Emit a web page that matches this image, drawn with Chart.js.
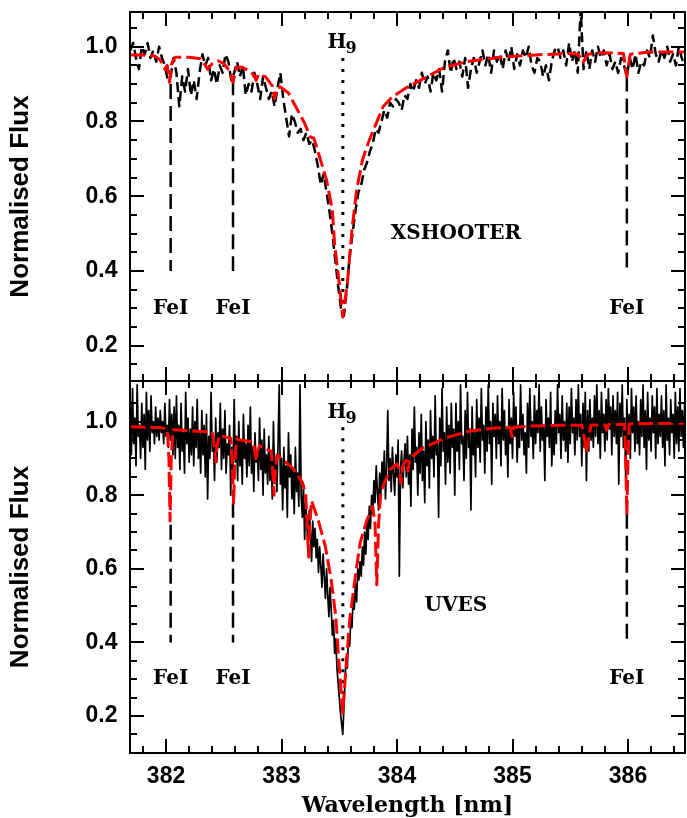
<!DOCTYPE html>
<html>
<head>
<meta charset="utf-8">
<script src="https://cdn.jsdelivr.net/npm/chart.js@4"></script>
<style>
  html, body { margin: 0; padding: 0; background: #fff; }
  #wrap { position: relative; width: 687px; height: 818px; }
  canvas { position: absolute; left: 0; }
  #top { top: 0; }
  #bottom { top: 368px; }
</style>
</head>
<body>
<div id="wrap">
  <canvas id="top" width="687" height="395"></canvas>
  <canvas id="bottom" width="687" height="450"></canvas>
</div>
<script>
// axis limits (nm / normalised flux)
const xMin = 381.688, xMax = 386.4935;
const xTickLabels = [382, 383, 384, 385, 386];
const xMinorTicks = [381.8, 382.2, 382.4, 382.6, 382.8, 383.2, 383.4, 383.6, 383.8,
  384.2, 384.4, 384.6, 384.8, 385.2, 385.4, 385.6, 385.8, 386.2, 386.4];
const yTickLabels = [0.2, 0.4, 0.6, 0.8, 1.0];
const yMinorTicks = [0.15, 0.25, 0.3, 0.35, 0.45, 0.5, 0.55, 0.65, 0.7, 0.75, 0.85, 0.9, 0.95, 1.05];

// line markers
const feLineWaves = [382.04, 382.58, 385.99];
const feTopStart = [0.90, 0.91, 0.92];
const feBotStart = [0.72, 0.78, 0.75];
const feLineEnd = 0.40;
const feLabelFlux = 0.30;
const h9Wave = 383.531;
const h9LabelWave = 383.48;

// XSHOOTER observed spectrum, 0.025 nm sampling from 381.69 nm
const xsStart = 381.69, xsStep = 0.025;
const xsFlux = [
  0.99, 1.01, 0.97, 0.94, 1.00, 0.98, 1.01, 0.97, 0.99, 0.96,
  1.00, 0.97, 0.95, 0.91, 0.92, 0.97, 0.93, 0.84, 0.92, 0.88,
  0.94, 0.87, 0.91, 0.86, 0.93, 0.98, 0.95, 0.97, 0.91, 0.94,
  0.90, 0.95, 0.93, 0.98, 0.96, 0.91, 0.93, 0.96, 0.92, 0.95,
  0.87, 0.90, 0.88, 0.93, 0.90, 0.86, 0.92, 0.89, 0.86, 0.88,
  0.84, 0.89, 0.93, 0.86, 0.81, 0.76, 0.82, 0.80, 0.77, 0.78,
  0.75, 0.77, 0.74, 0.75, 0.72, 0.68, 0.63, 0.66, 0.61, 0.56,
  0.50, 0.43, 0.36, 0.30, 0.28, 0.35, 0.44, 0.50, 0.56, 0.61,
  0.63, 0.67, 0.69, 0.72, 0.74, 0.78, 0.77, 0.80, 0.83, 0.81,
  0.85, 0.84, 0.86, 0.85, 0.83, 0.87, 0.86, 0.90, 0.88, 0.91,
  0.89, 0.93, 0.90, 0.92, 0.88, 0.93, 0.91, 0.94, 0.88, 0.96,
  0.99, 0.93, 0.97, 0.94, 0.96, 0.92, 0.97, 0.89, 0.94, 0.97,
  0.93, 0.96, 0.99, 0.95, 0.98, 0.93, 0.99, 0.96, 0.98, 0.94,
  0.99, 0.96, 1.00, 0.94, 0.98, 0.95, 0.99, 0.97, 1.00, 0.95,
  0.93, 0.97, 0.96, 0.92, 0.95, 0.91, 0.96, 0.99, 1.00, 0.97,
  0.99, 0.95, 1.01, 0.96, 0.99, 0.93, 1.10, 0.94, 0.99, 0.94,
  0.99, 0.96, 1.00, 0.97, 0.99, 0.95, 0.98, 0.94, 0.96, 0.93,
  0.97, 0.95, 0.92, 0.97, 0.94, 0.98, 0.93, 0.96, 0.95, 0.99,
  0.97, 1.03, 0.98, 0.96, 0.99, 0.97, 1.00, 0.96, 0.98, 0.95,
  1.00, 0.97, 0.95
];

// XSHOOTER model
const xsModelWave = [381.69, 381.80, 381.90, 381.95, 381.99, 382.01, 382.03, 382.05, 382.08, 382.20,
  382.30, 382.33, 382.36, 382.40, 382.45, 382.50, 382.55, 382.58, 382.61, 382.66,
  382.72, 382.76, 382.78, 382.80, 382.86, 382.92, 382.94, 382.96, 382.99, 383.06,
  383.14, 383.20, 383.25, 383.28, 383.33, 383.39, 383.44, 383.46, 383.50, 383.53,
  383.57, 383.61, 383.65, 383.70, 383.76, 383.82, 383.88, 383.96, 384.08, 384.20,
  384.40, 384.60, 384.90, 385.20, 385.50, 385.57, 385.61, 385.65, 385.80, 385.96,
  385.99, 386.02, 386.20, 386.49];
const xsModelFlux = [0.978, 0.978, 0.975, 0.965, 0.94, 0.95, 0.905, 0.955, 0.972, 0.972,
  0.968, 0.955, 0.94, 0.955, 0.962, 0.955, 0.935, 0.905, 0.945, 0.945,
  0.935, 0.925, 0.91, 0.925, 0.92, 0.895, 0.86, 0.89, 0.892, 0.876,
  0.83, 0.795, 0.758, 0.755, 0.705, 0.643, 0.563, 0.47, 0.367, 0.277,
  0.367, 0.51, 0.616, 0.696, 0.75, 0.795, 0.84, 0.866, 0.89, 0.91,
  0.943, 0.96, 0.972, 0.978, 0.982, 0.98, 0.958, 0.98, 0.984, 0.982,
  0.92, 0.98, 0.986, 0.986];

// UVES observed spectrum, 0.01 nm sampling from 381.69 nm
const uvesStart = 381.69, uvesStep = 0.01;
const uvesFlux = [
  1.06, 0.91, 1.09, 0.94, 1.01, 0.88, 1.10, 0.96, 0.99, 0.90, 1.05, 0.93, 1.02, 0.87, 1.08, 0.95, 1.03, 0.92, 1.07, 0.97,
  1.00, 0.94, 1.04, 0.96, 1.01, 0.95, 1.03, 0.97, 1.00, 0.94, 1.05, 0.96, 0.99, 0.93, 1.06, 0.95, 1.02, 0.91, 1.04, 0.90,
  1.07, 0.93, 0.99, 0.87, 1.05, 0.92, 0.97, 0.86, 1.08, 0.94, 1.01, 0.89, 0.98, 0.91, 1.04, 0.88, 1.00, 0.93, 1.06, 0.90,
  0.97, 0.86, 1.03, 0.91, 0.99, 0.85, 1.02, 0.79, 0.96, 0.90, 1.08, 0.92, 0.95, 0.84, 1.01, 0.89, 0.97, 0.93, 1.05, 0.87,
  0.98, 0.90, 1.03, 0.86, 0.94, 0.91, 0.99, 0.80, 0.93, 0.87, 1.06, 0.89, 0.96, 0.84, 1.00, 0.88, 0.95, 0.83, 1.02, 0.90,
  0.94, 0.85, 0.99, 0.88, 1.04, 0.86, 0.93, 0.81, 0.97, 0.89, 0.92, 0.84, 1.01, 0.87, 0.95, 0.80, 0.98, 0.86, 0.91, 0.83,
  0.96, 0.84, 0.92, 0.79, 1.00, 0.85, 0.89, 0.81, 0.94, 1.10, 0.83, 0.90, 0.76, 0.93, 0.82, 0.88, 0.74, 0.97, 0.85, 0.91,
  0.79, 0.87, 0.75, 0.93, 0.81, 0.86, 0.77, 1.10, 0.80, 0.74, 0.83, 0.68, 0.78, 0.72, 0.64, 0.76, 0.70, 0.62, 0.73, 0.66,
  0.71, 0.63, 0.68, 0.59, 0.66, 0.61, 0.55, 0.64, 0.58, 0.52, 0.60, 0.53, 0.47, 0.55, 0.49, 0.42, 0.46, 0.37, 0.41, 0.33,
  0.29, 0.25, 0.21, 0.18, 0.15, 0.22, 0.30, 0.36, 0.33, 0.42, 0.39, 0.47, 0.44, 0.52, 0.49, 0.56, 0.51, 0.60, 0.57, 0.62,
  0.58, 0.66, 0.61, 0.70, 0.64, 0.73, 0.68, 0.77, 0.71, 0.80, 0.75, 0.84, 0.78, 0.88, 0.81, 0.76, 0.86, 0.80, 0.89, 0.83,
  0.92, 0.79, 0.88, 1.03, 0.84, 0.90, 0.81, 0.93, 0.86, 0.80, 0.91, 0.85, 0.95, 0.58, 0.87, 0.92, 0.82, 0.89, 0.94, 0.85,
  0.96, 0.83, 0.91, 0.77, 0.98, 0.87, 1.04, 0.89, 0.93, 0.80, 0.97, 0.86, 1.02, 0.84, 0.92, 0.78, 1.00, 0.88, 0.95, 0.82,
  1.03, 0.90, 0.96, 0.85, 1.07, 0.91, 0.94, 0.74, 1.01, 0.88, 1.09, 0.92, 0.97, 0.83, 1.04, 0.89, 0.99, 0.86, 1.05, 0.93,
  0.98, 0.80, 1.05, 0.92, 1.00, 0.87, 1.10, 0.94, 0.96, 0.84, 1.03, 0.90, 1.08, 0.93, 0.98, 0.76, 1.04, 0.91, 0.97, 0.85,
  1.06, 0.93, 1.01, 0.89, 1.09, 0.95, 0.99, 0.86, 1.04, 0.92, 1.10, 0.94, 1.00, 0.83, 1.05, 0.96, 1.02, 0.90, 1.07, 0.94,
  1.00, 0.88, 1.09, 0.95, 1.03, 0.91, 0.98, 0.85, 1.06, 0.94, 1.01, 0.90, 1.08, 0.96, 1.04, 0.89, 0.99, 0.93, 1.10, 0.95,
  1.02, 0.91, 0.97, 0.86, 1.05, 0.93, 1.09, 0.96, 1.00, 0.90, 1.07, 0.94, 1.03, 0.97, 1.10, 0.92, 1.04, 0.95, 0.99, 0.84,
  1.06, 0.96, 1.01, 0.93, 1.08, 0.88, 0.99, 0.91, 1.03, 0.94, 1.10, 0.97, 1.02, 0.90, 1.07, 0.95, 1.00, 0.92, 1.05, 0.89,
  1.04, 0.94, 1.09, 0.97, 1.01, 0.91, 1.06, 0.95, 1.10, 0.96, 1.02, 0.88, 1.05, 0.93, 1.08, 0.84, 1.03, 0.92, 1.06, 0.95,
  1.01, 0.93, 1.07, 0.96, 1.10, 0.94, 1.03, 0.90, 1.08, 0.97, 1.02, 0.92, 1.06, 0.95, 1.09, 0.98, 1.04, 0.91, 1.07, 0.96,
  1.03, 0.94, 1.08, 0.83, 1.05, 0.96, 1.10, 0.93, 1.01, 0.85, 1.06, 0.95, 1.02, 0.90, 1.09, 0.97, 1.04, 0.92, 1.07, 0.94,
  1.00, 0.91, 1.06, 0.96, 1.10, 0.93, 1.03, 0.87, 1.08, 0.95, 1.01, 0.92, 1.07, 0.97, 1.04, 0.90, 1.09, 0.94, 1.02, 0.96,
  1.07, 0.93, 1.03, 0.88, 1.10, 0.95, 1.01, 0.91, 1.06, 0.97, 1.02, 0.90, 1.08, 0.94, 1.04, 0.92, 1.09, 0.96, 1.03, 0.93,
  1.05
];

// UVES model
const uvesModelWave = [381.69, 381.95, 382.01, 382.025, 382.035, 382.045, 382.06, 382.40, 382.42, 382.43,
  382.44, 382.46, 382.56, 382.575, 382.585, 382.595, 382.61, 382.75, 382.77, 382.78,
  382.79, 382.81, 382.91, 382.925, 382.935, 382.945, 382.96, 383.00, 383.10, 383.18,
  383.21, 383.225, 383.235, 383.245, 383.26, 383.32, 383.38, 383.43, 383.47, 383.50,
  383.53, 383.555, 383.59, 383.635, 383.68, 383.74, 383.79, 383.81, 383.825, 383.84,
  383.86, 383.94, 384.00, 384.02, 384.035, 384.05, 384.08, 384.095, 384.11, 384.22,
  384.42, 384.62, 384.85, 384.98, 384.995, 385.01, 385.15, 385.40, 385.60, 385.625,
  385.64, 385.655, 385.68, 385.80, 385.815, 385.83, 385.97, 385.98, 385.99, 386.00,
  386.01, 386.49];
const uvesModelFlux = [0.986, 0.984, 0.98, 0.90, 0.73, 0.90, 0.978, 0.972, 0.93, 0.89,
  0.93, 0.962, 0.955, 0.88, 0.775, 0.88, 0.952, 0.945, 0.92, 0.893,
  0.92, 0.935, 0.92, 0.86, 0.80, 0.86, 0.91, 0.90, 0.873, 0.835,
  0.80, 0.70, 0.632, 0.72, 0.785, 0.73, 0.66, 0.57, 0.47, 0.333,
  0.208, 0.317, 0.46, 0.57, 0.67, 0.733, 0.77, 0.72, 0.556, 0.72,
  0.81, 0.87, 0.885, 0.87, 0.833, 0.88, 0.895, 0.866, 0.90, 0.928,
  0.956, 0.974, 0.983, 0.985, 0.96, 0.985, 0.988, 0.99, 0.99, 0.95,
  0.915, 0.95, 0.991, 0.991, 0.977, 0.992, 0.993, 0.90, 0.746, 0.90,
  0.994, 0.996];

const pts = (w, f) => w.map((x, i) => ({ x: x, y: f[i] }));
const grid = (start, step, f) => f.map((y, i) => ({ x: start + i * step, y: y }));

const tickFont = { family: 'Liberation Sans', size: 23, weight: 'bold' };
const serif = '"DejaVu Serif"';

// box with inward ticks on all four sides
const frameTicks = {
  id: 'frameTicks',
  afterDatasetsDraw(chart) {
    const { ctx, chartArea: a, scales: { x, y } } = chart;
    ctx.save();
    ctx.strokeStyle = '#000';
    ctx.lineWidth = 2;
    ctx.beginPath();
    const xt = (vals, len) => vals.forEach(v => {
      const px = Math.round(x.getPixelForValue(v));
      ctx.moveTo(px, a.top); ctx.lineTo(px, a.top + len);
      ctx.moveTo(px, a.bottom); ctx.lineTo(px, a.bottom - len);
    });
    const yt = (vals, len) => vals.forEach(v => {
      if (v <= y.min || v >= y.max) return;
      const py = Math.round(y.getPixelForValue(v));
      ctx.moveTo(a.left, py); ctx.lineTo(a.left + len, py);
      ctx.moveTo(a.right, py); ctx.lineTo(a.right - len, py);
    });
    xt(xTickLabels, 14); xt(xMinorTicks, 7);
    yt(yTickLabels, 14); yt(yMinorTicks, 7);
    ctx.stroke();
    ctx.strokeRect(a.left, a.top, a.right - a.left, a.bottom - a.top);
    ctx.restore();
  }
};

// FeI / H9 / instrument labels
const panelLabels = {
  id: 'panelLabels',
  afterDatasetsDraw(chart, args, o) {
    const { ctx, scales: { x, y } } = chart;
    ctx.save();
    ctx.fillStyle = '#000';
    ctx.textAlign = 'center';
    ctx.textBaseline = 'middle';
    ctx.font = 'bold 20px ' + serif;
    feLineWaves.forEach(w => ctx.fillText('FeI', x.getPixelForValue(w), y.getPixelForValue(feLabelFlux)));
    ctx.fillText(o.name, x.getPixelForValue(384.51), y.getPixelForValue(0.50));
    const hx = x.getPixelForValue(h9LabelWave), hy = y.getPixelForValue(o.h9Flux);
    ctx.fillText('H', hx, hy);
    ctx.font = 'bold 16px ' + serif;
    ctx.fillText('9', hx + 14, hy + 6);
    ctx.restore();
  }
};

function markerSets(starts, h9Top, h9Bottom) {
  const sets = feLineWaves.map((w, i) => ({
    data: [{ x: w, y: starts[i] }, { x: w, y: feLineEnd }],
    borderColor: '#000', borderWidth: 2.5, borderDash: [15, 7]
  }));
  sets.push({
    data: [{ x: h9Wave, y: h9Top }, { x: h9Wave, y: h9Bottom }],
    borderColor: '#000', borderWidth: 3, borderDash: [3, 8]
  });
  return sets;
}

function panel(id, cfg) {
  return new Chart(document.getElementById(id), {
    type: 'scatter',
    data: { datasets: cfg.datasets.map(d => Object.assign({ showLine: true, pointRadius: 0 }, d)) },
    options: {
      responsive: false,
      animation: false,
      devicePixelRatio: 1,
      layout: { padding: cfg.padding },
      elements: { line: { tension: 0, borderJoinStyle: 'round' } },
      plugins: {
        legend: { display: false },
        tooltip: { enabled: false },
        panelLabels: cfg.labels
      },
      scales: {
        x: {
          type: 'linear', position: 'bottom', min: xMin, max: xMax,
          grid: { display: false, drawTicks: false },
          border: { display: false },
          afterBuildTicks: s => { s.ticks = xTickLabels.map(v => ({ value: v })); },
          afterFit: s => { s.height = cfg.xHeight; s.paddingLeft = 0; s.paddingRight = 0; },
          ticks: { display: cfg.showX, padding: 10, color: '#000', font: tickFont, callback: v => String(v) },
          title: {
            display: cfg.showX, text: 'Wavelength [nm]', color: '#000',
            font: { family: 'DejaVu Serif', size: 22, weight: 'bold', lineHeight: 1.05 },
            padding: { top: 0, bottom: 0 }
          }
        },
        y: {
          type: 'linear', position: 'left', min: cfg.yMin, max: cfg.yMax,
          grid: { display: false, drawTicks: false },
          border: { display: false },
          afterBuildTicks: s => { s.ticks = yTickLabels.map(v => ({ value: v })); },
          afterFit: s => { s.width = 130; s.paddingTop = 0; s.paddingBottom = 0; },
          ticks: { padding: 12.5, color: '#000', font: tickFont, callback: v => v.toFixed(1) },
          title: {
            display: true, text: 'Normalised Flux', color: '#000',
            font: { family: 'Liberation Sans', size: 26, weight: 'bold' },
            padding: { top: 5, bottom: 0 }
          }
        }
      }
    },
    plugins: [frameTicks, panelLabels]
  });
}

panel('top', {
  padding: { top: 12, right: 2, left: 0, bottom: 14 },
  xHeight: 0, showX: false, yMin: 0.1056, yMax: 1.0928,
  labels: { name: 'XSHOOTER', h9Flux: 1.011 },
  datasets: [
    { data: pts(xsModelWave, xsModelFlux), borderColor: '#ff0000', borderWidth: 3, borderDash: [15, 5] },
    { data: grid(xsStart, xsStep, xsFlux), borderColor: '#000', borderWidth: 2.5, borderDash: [10, 5] }
  ].concat(markerSets(feTopStart, 0.97, 0.30))
});

panel('bottom', {
  padding: { top: 13, right: 2, left: 0, bottom: 0 },
  xHeight: 65, showX: true, yMin: 0.0995, yMax: 1.1106,
  labels: { name: 'UVES', h9Flux: 1.024 },
  datasets: [
    { data: pts(uvesModelWave, uvesModelFlux), borderColor: '#ff0000', borderWidth: 3, borderDash: [15, 5] },
    { data: grid(uvesStart, uvesStep, uvesFlux), borderColor: '#000', borderWidth: 1.7 }
  ].concat(markerSets(feBotStart, 0.985, 0.25))
});
</script>
</body>
</html>
